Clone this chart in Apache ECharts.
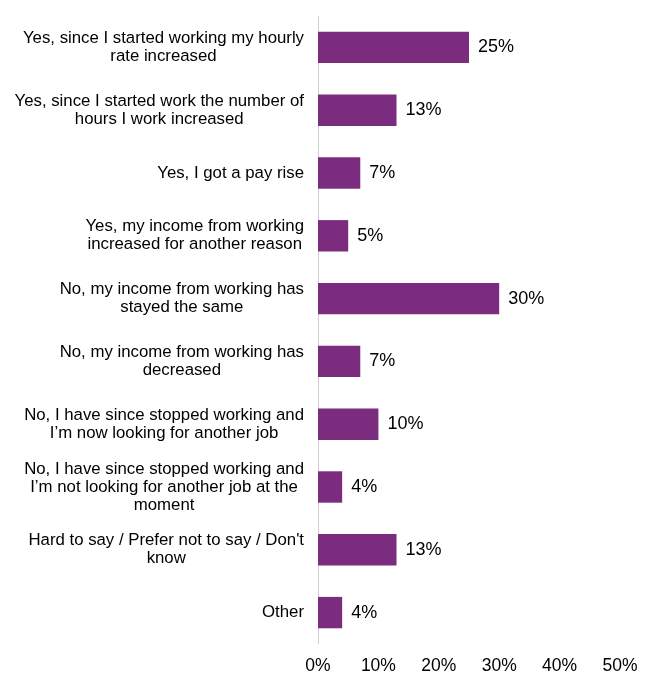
<!DOCTYPE html>
<html>
<head>
<meta charset="utf-8">
<script src="https://cdn.jsdelivr.net/npm/echarts@6/dist/echarts.min.js"></script>
<style>
  html, body { margin: 0; padding: 0; background: #fff; }
  #chart { width: 652px; height: 688px; }
</style>
</head>
<body>
<div id="chart"></div>
<script>
// answers, top to bottom
var categories = [
  'Yes, since I started working my hourly\nrate increased',
  'Yes, since I started work the number of\nhours I work increased',
  'Yes, I got a pay rise',
  'Yes, my income from working\nincreased for another reason',
  'No, my income from working has\nstayed the same',
  'No, my income from working has\ndecreased',
  'No, I have since stopped working and\nI\u2019m now looking for another job',
  'No, I have since stopped working and\nI\u2019m not looking for another job at the\nmoment',
  'Hard to say / Prefer not to say / Don\'t\nknow',
  'Other'
];
var shares = [25, 13, 7, 5, 30, 7, 10, 4, 13, 4];
var xTicks = [0, 10, 20, 30, 40, 50];

var chart = echarts.init(document.getElementById('chart'));
chart.setOption({
  animation: false,
  grid: { left: 318, right: 32, top: 16, bottom: 44, containLabel: false },
  xAxis: {
    type: 'value',
    min: xTicks[0],
    max: xTicks[xTicks.length - 1],
    interval: 10,
    axisLine: { show: false },
    axisTick: { show: false },
    splitLine: { show: false },
    axisLabel: {
      formatter: '{value}%',
      color: '#000',
      fontFamily: 'Liberation Sans, Arial, sans-serif',
      fontSize: 17.5,
      margin: 13
    }
  },
  yAxis: {
    type: 'category',
    inverse: true,
    data: categories,
    axisLine: { show: true, lineStyle: { color: '#d0d0d0', width: 1 } },
    axisTick: { show: false },
    axisLabel: {
      margin: 14,
      formatter: function (v) {
        return v.split('\n').map(function (s) { return '{c|' + s + '}'; }).join('\n');
      },
      rich: {
        c: {
          align: 'center',
          color: '#000',
          fontFamily: 'Liberation Sans, Arial, sans-serif',
          fontSize: 16.8,
          lineHeight: 18
        }
      }
    }
  },
  series: [{
    type: 'bar',
    data: shares,
    barWidth: '50%',
    itemStyle: { color: '#7B2C7F' },
    label: {
      show: true,
      position: 'right',
      distance: 9,
      formatter: '{c}%',
      color: '#000',
      fontFamily: 'Liberation Sans, Arial, sans-serif',
      fontSize: 18
    }
  }]
});
</script>
</body>
</html>
